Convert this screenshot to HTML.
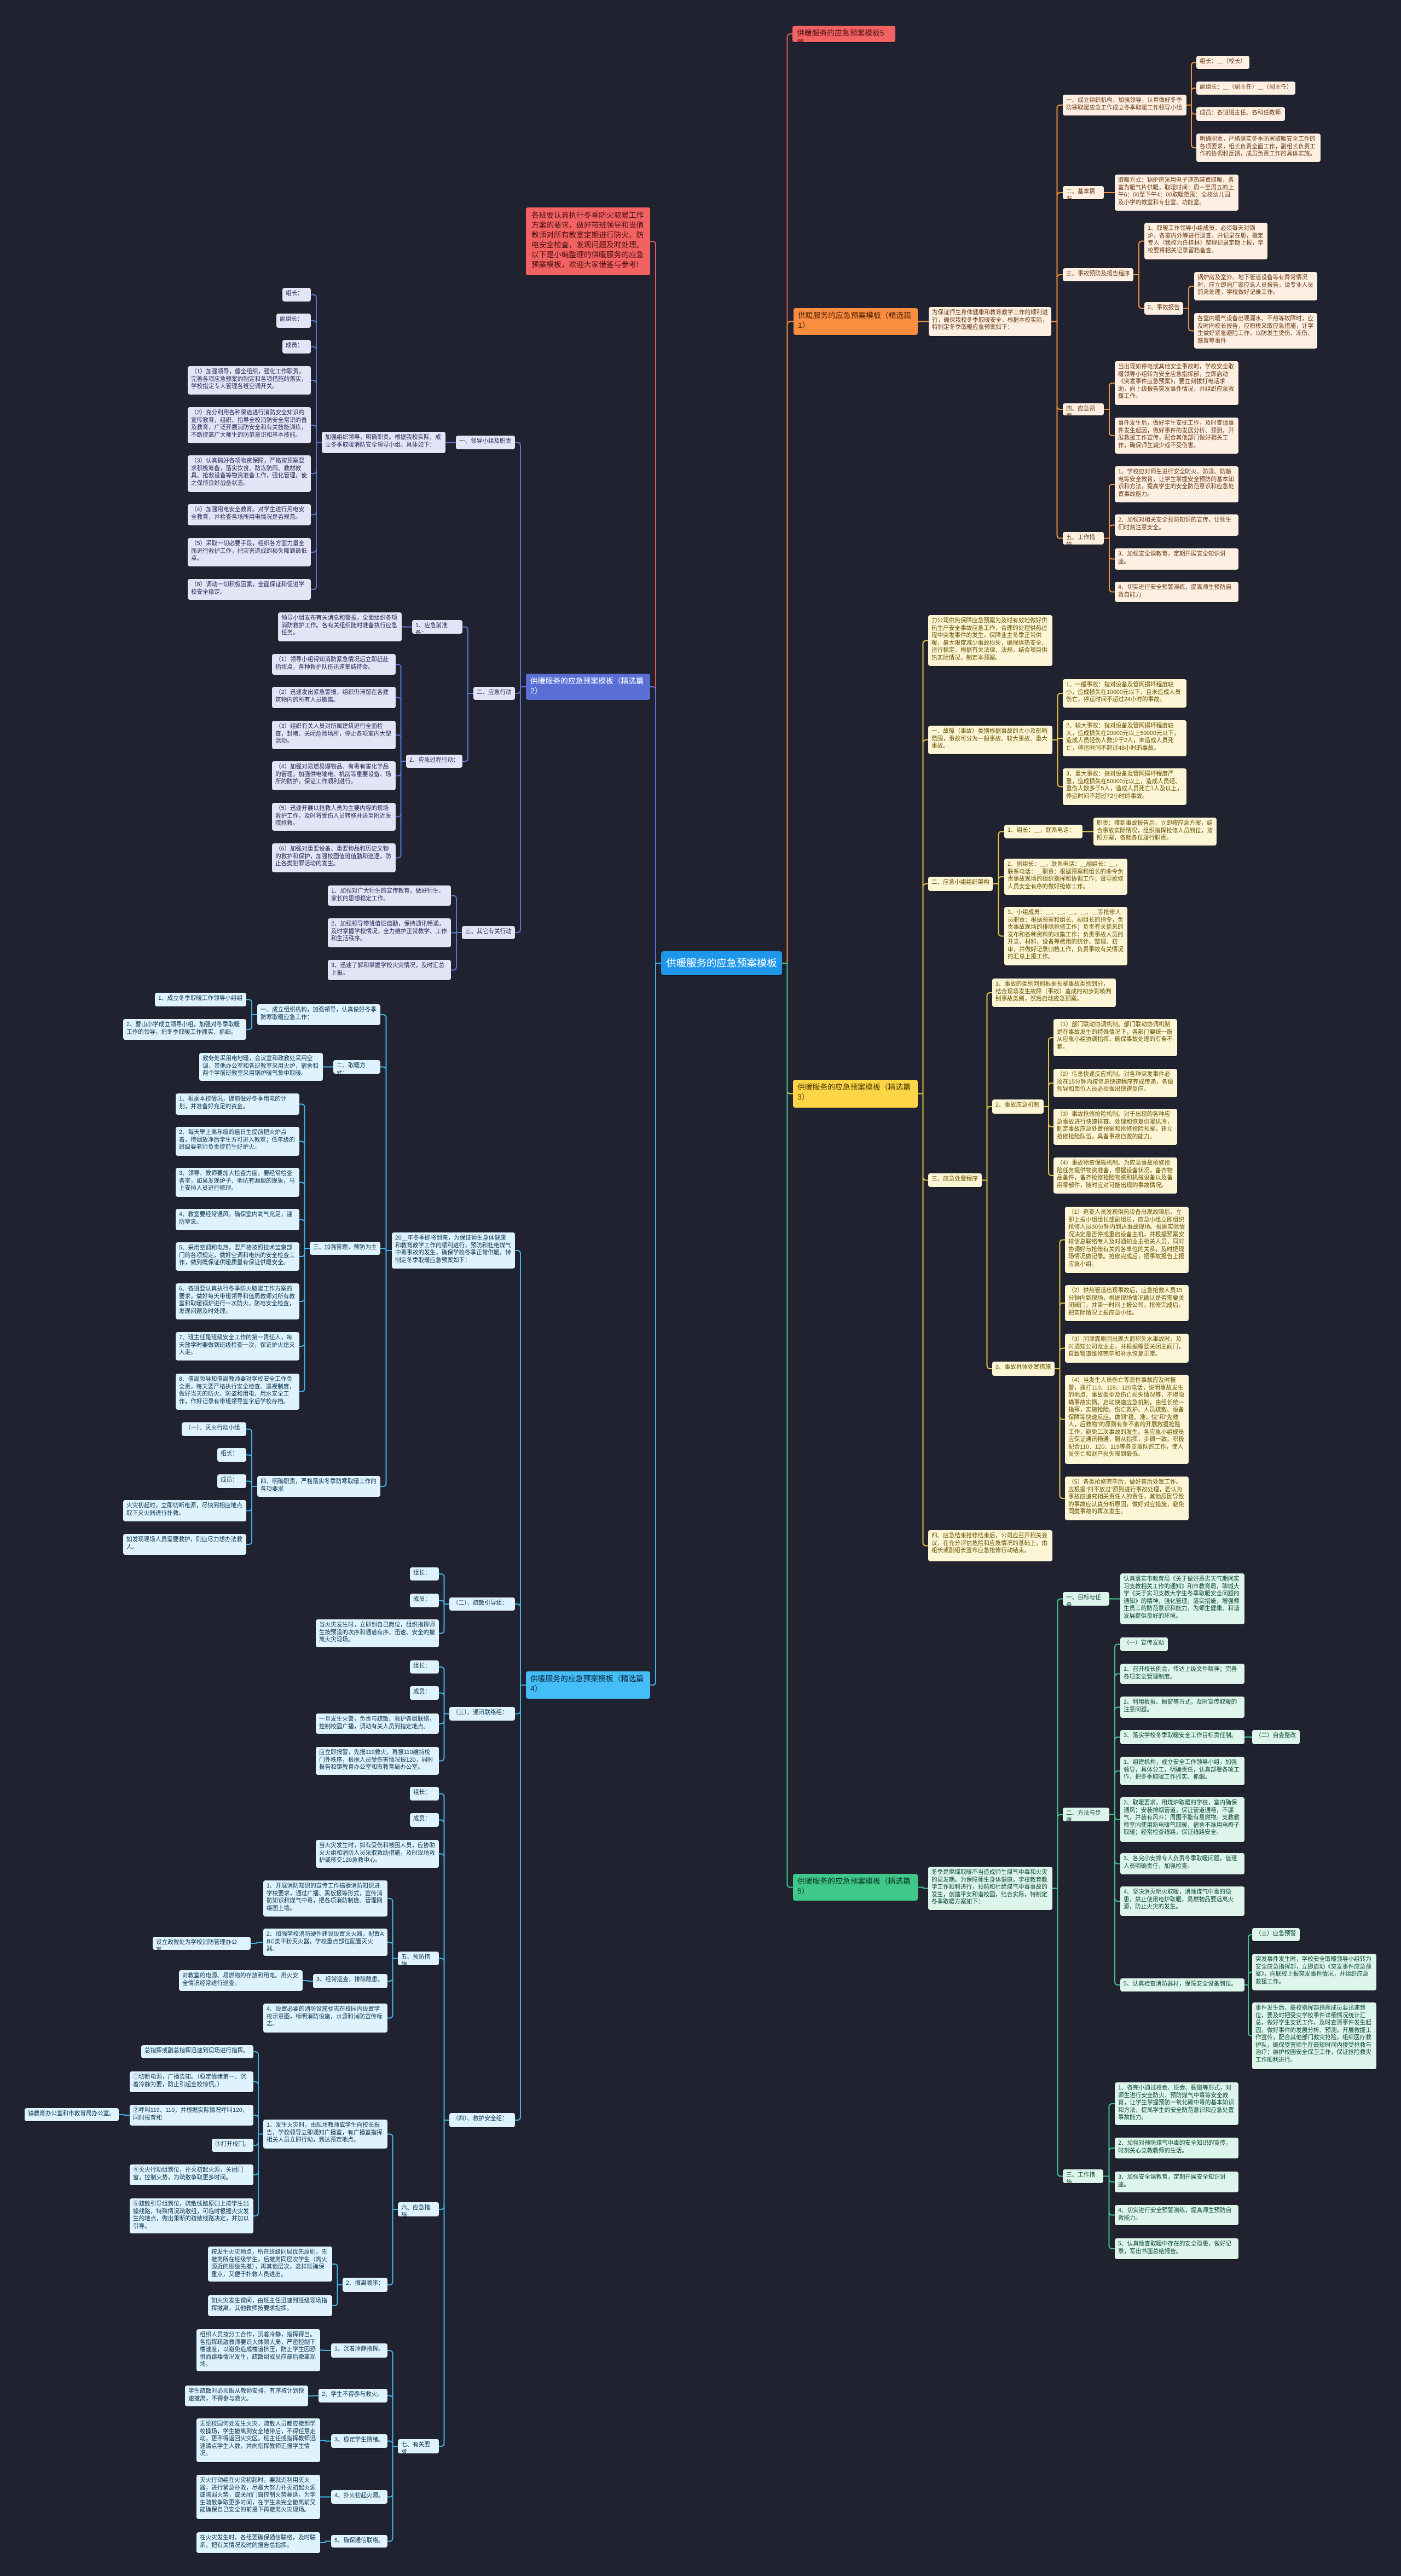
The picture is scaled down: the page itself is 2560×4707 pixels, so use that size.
<!DOCTYPE html>
<html><head><meta charset="utf-8">
<style>
html,body{margin:0;padding:0;background:#20232f;}
body{width:2560px;height:4707px;position:relative;overflow:hidden;font-family:"Liberation Sans","Noto Sans CJK SC",sans-serif;}
svg{position:absolute;left:0;top:0;}
.n{position:absolute;box-sizing:border-box;font-size:10.6px;line-height:13.5px;padding:4px 6px;border-radius:4px;overflow:hidden;box-shadow:0 1px 0 rgba(0,0,0,.35);word-break:break-all;}
.na{background:#fdf0e2;color:#6b3a16;}
.nb{background:#e3e5f6;color:#262b55;}
.nc{background:#fdf6d6;color:#6a5200;}
.nd{background:#def3fd;color:#0e3550;}
.ne{background:#ddf5ea;color:#0f4a33;}
.br{font-size:13.8px;line-height:18px;padding:5px 8px;}
#R{background:#1e97ea;color:#fff;font-size:18.4px;line-height:44px;padding:0;text-align:center;border-radius:5px;}
.r{background:#f26262;color:#4a0f0f;}
#I{font-size:13.7px;line-height:18px;padding:6px 10px;}
#B1{background:#fb8d40;color:#4a2000;}
#B2{background:#5a6fd6;color:#fff;}
#B3{background:#fdd547;color:#4a3a00;}
#B4{background:#45bdf7;color:#0b2a40;}
#B5{background:#3fc88a;color:#0b3322;}
</style></head><body>
<svg id="sv" width="2560" height="4707"></svg>

<div class="n" id="R" style="left:1208px;top:1738px;width:221px;height:44px">供暖服务的应急预案模板</div>
<div class="n r br" id="T" style="left:1448px;top:47px;width:188px;height:30px">供暖服务的应急预案模板5篇</div>
<div class="n r" id="I" style="left:961px;top:379px;width:227px;height:124px">各班要认真执行冬季防火取暖工作方案的要求，做好带班领导和当值教师对所有教室定期进行防火、防电安全检查，发现问题及时处理。以下是小编整理的供暖服务的应急预案模板，欢迎大家借鉴与参考!</div>
<div class="n br" id="B1" style="left:1450px;top:563px;width:227px;height:49px">供暖服务的应急预案模板（精选篇1）</div>
<div class="n br" id="B2" style="left:961px;top:1231px;width:227px;height:48px">供暖服务的应急预案模板（精选篇2）</div>
<div class="n br" id="B3" style="left:1449px;top:1973px;width:228px;height:51px">供暖服务的应急预案模板（精选篇3）</div>
<div class="n br" id="B4" style="left:961px;top:3054px;width:227px;height:50px">供暖服务的应急预案模板（精选篇4）</div>
<div class="n br" id="B5" style="left:1449px;top:3424px;width:228px;height:49px">供暖服务的应急预案模板（精选篇5）</div>

<!-- 篇1 -->
<div class="n na" id="a0" style="left:1697px;top:561px;width:224px;height:53px">为保证师生身体健康和教育教学工作的顺利进行，确保我校冬季取暖安全，根据本校实际，特制定冬季取暖应急预案如下：</div>
<div class="n na" id="a1" style="left:1942px;top:173px;width:226px;height:38px">一、成立组织机构，加强领导，认真做好冬季防寒取暖应急工作成立冬季取暖工作领导小组</div>
<div class="n na" id="a11" style="left:2186px;top:102px;width:97px;height:24px">组长：＿（校长）</div>
<div class="n na" id="a12" style="left:2186px;top:149px;width:181px;height:24px">副组长：＿（副主任）＿（副主任）</div>
<div class="n na" id="a13" style="left:2186px;top:196px;width:162px;height:25px">成员：各班班主任、各科任教师</div>
<div class="n na" id="a14" style="left:2186px;top:244px;width:227px;height:52px">明确职责，严格落实冬季防寒取暖安全工作的各项要求，组长负责全面工作，副组长负责工作的协调和反馈，成员负责工作的具体实施。</div>
<div class="n na" id="a2" style="left:1942px;top:340px;width:75px;height:24px">二、基本情况</div>
<div class="n na" id="a21" style="left:2037px;top:319px;width:226px;height:66px">取暖方式：锅炉房采用电子速热装置取暖，各室为暖气片供暖，取暖时间：周一至周五的上午6：00至下午4：00取暖范围：全校幼儿园及小学的教室和专业室、功能室。</div>
<div class="n na" id="a3" style="left:1942px;top:490px;width:129px;height:24px">三、事故预防及报告程序</div>
<div class="n na" id="a31" style="left:2091px;top:407px;width:225px;height:67px">1、取暖工作领导小组成员，必须每天对锅炉，各室内外等进行巡查，并记录在册，指定专人（我校为任桂林）整理记录定期上报，学校要将相关记录留档备查。</div>
<div class="n na" id="a32" style="left:2091px;top:552px;width:71px;height:23px">2、事故报告</div>
<div class="n na" id="a321" style="left:2182px;top:497px;width:225px;height:52px">锅炉房及室外、地下管道设备等有异常情况时，应立即向厂家应急人员报告，请专业人员前来处理，学校做好记录工作。</div>
<div class="n na" id="a322" style="left:2182px;top:572px;width:225px;height:65px">各室内暖气设备出现漏水、不热等故障时，应及时向校长报告，应积极采取应急措施，让学生做好紧急避险工作，以防发生烫伤、冻伤、感冒等事件</div>
<div class="n na" id="a4" style="left:1942px;top:737px;width:75px;height:22px">四、应急预案</div>
<div class="n na" id="a41" style="left:2037px;top:660px;width:226px;height:80px">当出现如停电或其他安全事故时，学校安全取暖领导小组转为安全应急指挥部，立即启动《突发事件应急预案》，要立刻拔打电话求助，向上级报告突发事件情况，并组织应急救援工作。</div>
<div class="n na" id="a42" style="left:2037px;top:763px;width:226px;height:66px">事件发生后，做好学生安抚工作，及时查请事件发生起因，做好事件的发展分析、预测，开展救援工作宣传，配合其他部门做好相关工作，确保师生减少或不受伤害。</div>
<div class="n na" id="a5" style="left:1942px;top:972px;width:75px;height:23px">五、工作措施</div>
<div class="n na" id="a51" style="left:2037px;top:852px;width:226px;height:66px">1、学校应对师生进行安全防火、防烫、防触电等安全教育，让学生掌握安全预防的基本知识和方法，提高学生的安全防范意识和应急处置事故能力。</div>
<div class="n na" id="a52" style="left:2037px;top:940px;width:226px;height:39px">2、加强对相关安全预防知识的宣传，让师生们时刻注意安全。</div>
<div class="n na" id="a53" style="left:2037px;top:1002px;width:226px;height:39px">3、加强安全课教育，定期开展安全知识讲座。</div>
<div class="n na" id="a54" style="left:2037px;top:1063px;width:226px;height:37px">4、切实进行安全预警演练，提高师生预防自救自能力</div>

<!-- 篇2 -->
<div class="n nb" id="b1" style="left:833px;top:796px;width:108px;height:25px">一、领导小组及职责</div>
<div class="n nb" id="b10" style="left:588px;top:789px;width:226px;height:39px">加强组织领导，明确职责。根据我校实际，成立冬季取暖消防安全领导小组。具体如下：</div>
<div class="n nb" id="b11" style="left:516px;top:526px;width:52px;height:25px">组长：＿</div>
<div class="n nb" id="b12" style="left:505px;top:573px;width:63px;height:26px">副组长：＿</div>
<div class="n nb" id="b13" style="left:516px;top:621px;width:52px;height:25px">成员：＿</div>
<div class="n nb" id="b14" style="left:343px;top:669px;width:225px;height:52px">（1）加强领导，健全组织，强化工作职责，完善各项应急预案的制定和各项措施的落实，学校指定专人管理各班空调开关。</div>
<div class="n nb" id="b15" style="left:343px;top:744px;width:225px;height:66px">（2）充分利用各种渠道进行消防安全知识的宣传教育，组织、指导全校消防安全常识的普及教育，广泛开展消防安全和有关技能训练，不断提高广大师生的防范意识和基本技能。</div>
<div class="n nb" id="b16" style="left:343px;top:832px;width:225px;height:67px">（3）认真搞好各项物资保障，严格按预案要求积极筹备，落实饮食、防冻防雨、教材教具、抢救设备等物资准备工作，强化管理，使之保持良好战备状态。</div>
<div class="n nb" id="b17" style="left:343px;top:921px;width:225px;height:39px">（4）加强用电安全教育。对学生进行用电安全教育，并检查各场所用电情况是否规范。</div>
<div class="n nb" id="b18" style="left:343px;top:983px;width:225px;height:52px">（5）采取一切必要手段，组织各方面力量全面进行救护工作，把灾害造成的损失降到最低点。</div>
<div class="n nb" id="b19" style="left:343px;top:1058px;width:225px;height:38px">（6）调动一切积极因素，全面保证和促进学校安全稳定。</div>
<div class="n nb" id="b2" style="left:865px;top:1255px;width:76px;height:24px">二、应急行动</div>
<div class="n nb" id="b21" style="left:753px;top:1133px;width:92px;height:25px">1、应急前准备：</div>
<div class="n nb" id="b211" style="left:508px;top:1119px;width:226px;height:53px">领导小组发布有关消息和警报，全面组织各项消防救护工作。各有关组织随时准备执行应急任务。</div>
<div class="n nb" id="b22" style="left:742px;top:1379px;width:103px;height:24px">2、应急过程行动：</div>
<div class="n nb" id="b221" style="left:497px;top:1195px;width:226px;height:38px">（1）领导小组得知消防紧急情况后立即赶赴指挥点，各种救护队伍迅速集结待命。</div>
<div class="n nb" id="b222" style="left:497px;top:1255px;width:226px;height:39px">（2）迅速发出紧急警报，组织仍滞留在各建筑物内的所有人员撤离。</div>
<div class="n nb" id="b223" style="left:497px;top:1317px;width:226px;height:52px">（3）组织有关人员对所属建筑进行全面检查，封堵、关闭危险场所，停止各项室内大型活动。</div>
<div class="n nb" id="b224" style="left:497px;top:1391px;width:226px;height:53px">（4）加强对易燃易爆物品、有毒有害化学品的管理，加强供电输电、机房等重要设备、场所的防护，保证工作顺利进行。</div>
<div class="n nb" id="b225" style="left:497px;top:1467px;width:226px;height:51px">（5）迅速开展以抢救人员为主要内容的现场救护工作，及时将受伤人员转移并送至附近医院抢救。</div>
<div class="n nb" id="b226" style="left:497px;top:1541px;width:226px;height:53px">（6）加强对重要设备、重要物品和历史文物的救护和保护，加强校园值班值勤和巡逻，防止各类犯罪活动的发生。</div>
<div class="n nb" id="b3" style="left:844px;top:1692px;width:97px;height:24px">三、其它有关行动</div>
<div class="n nb" id="b31" style="left:599px;top:1618px;width:225px;height:37px">1、加强对广大师生的宣传教育，做好师生、家长的思想稳定工作。</div>
<div class="n nb" id="b32" style="left:599px;top:1678px;width:225px;height:53px">2、加强领导带班值班值勤，保持通讯畅通，及时掌握学校情况，全力维护正常教学、工作和生活秩序。</div>
<div class="n nb" id="b33" style="left:599px;top:1754px;width:225px;height:37px">3、迅速了解和掌握学校火灾情况，及时汇总上报。</div>

<!-- 篇3 -->
<div class="n nc" id="c0" style="left:1696px;top:1124px;width:227px;height:93px">力公司供热保障应急预案为及时有效地做好供热生产安全事故应急工作，合理的处理供热过程中突发事件的发生，保障业主冬季正常供暖，最大限度减少事故损失，确保供热安全、运行稳定，根据有关法律、法规，结合项目供热实际情况，制定本预案。</div>
<div class="n nc" id="c1" style="left:1696px;top:1326px;width:227px;height:52px">一、故障（事故）类别根据事故的大小及影响范围，事故可分为一般事故、较大事故、重大事故。</div>
<div class="n nc" id="c11" style="left:1942px;top:1241px;width:226px;height:52px">1、一般事故：指对设备及管网损坏程度较小，造成损失在10000元以下，且未造成人员伤亡，停运时间不超过24小时的事故。</div>
<div class="n nc" id="c12" style="left:1942px;top:1316px;width:226px;height:66px">2、较大事故：指对设备及管网损坏程度较大，造成损失在20000元以上50000元以下，造成人员轻伤人数少于2人，未造成人员死亡，停运时间不超过48小时的事故。</div>
<div class="n nc" id="c13" style="left:1942px;top:1404px;width:226px;height:67px">3、重大事故：指对设备及管网损坏程度严重，造成损失在50000元以上，造成人员轻、重伤人数多于5人，造成人员死亡1人及以上，停运时间不超过72小时的事故。</div>
<div class="n nc" id="c2" style="left:1696px;top:1602px;width:118px;height:26px">二、应急小组组织架构</div>
<div class="n nc" id="c21" style="left:1835px;top:1507px;width:143px;height:25px">1、组长：＿，联系电话：＿</div>
<div class="n nc" id="c211" style="left:1998px;top:1494px;width:225px;height:51px">职责：接到事故报告后，立即按应急方案，结合事故实际情况，组织指挥抢修人员到位，按照方案，各就各位履行职责。</div>
<div class="n nc" id="c22" style="left:1835px;top:1569px;width:225px;height:66px">2、副组长：＿，联系电话：＿副组长：＿，联系电话：＿职责：根据预案和组长的命令负责事故现场的组织指挥和协调工作；督导抢修人员安全有序的做好抢修工作。</div>
<div class="n nc" id="c23" style="left:1835px;top:1657px;width:225px;height:107px">3、小组成员：＿、＿、＿、＿、＿等抢修人员职责：根据预案和组长、副组长的指令，负责事故现场的排除抢修工作；负责有关信息的发布和各种资料的收集工作；负责事故人员的开支、材料、设备等费用的统计、整理、初审，并做好记录归档工作，负责事故有关情况的汇总上报工作。</div>
<div class="n nc" id="c3" style="left:1696px;top:2144px;width:98px;height:25px">三、应急处置程序</div>
<div class="n nc" id="c31" style="left:1813px;top:1788px;width:226px;height:52px">1、事故的类别判别根据预案事故类别划分，结合现场发生故障（事故）造成的初步影响判别事故类别，然后启动应急预案。</div>
<div class="n nc" id="c32" style="left:1813px;top:2009px;width:94px;height:26px">2、事故应急机制</div>
<div class="n nc" id="c321" style="left:1925px;top:1862px;width:226px;height:68px">（1）部门联动协调机制。部门联动协调机制是在事故发生的特殊情况下，各部门要统一服从应急小组协调指挥，确保事故处理的有条不紊。</div>
<div class="n nc" id="c322" style="left:1925px;top:1953px;width:226px;height:52px">（2）信息快速反应机制。对各种突发事件必须在15分钟内按信息快速程序完成传递，各级领导和岗位人员必须做出快速反应。</div>
<div class="n nc" id="c323" style="left:1925px;top:2026px;width:226px;height:66px">（3）事故抢修抢险机制。对于出现的各种应急事故进行快速排查、处理和恢复供暖供冷，制定事故应急处置预案和抢修抢险预案，建立抢修抢险队伍，具备事故自救的能力。</div>
<div class="n nc" id="c324" style="left:1925px;top:2115px;width:226px;height:66px">（4）事故物资保障机制。为应急事故抢修抢险任务提供物资准备，根据设备状况，备齐物品备件，备齐抢修抢险物资和机械设备以及备用零部件，随时应对可能出现的事故情况。</div>
<div class="n nc" id="c33" style="left:1813px;top:2488px;width:114px;height:26px">3、事故具体处置措施</div>
<div class="n nc" id="c331" style="left:1946px;top:2205px;width:226px;height:121px">（1）巡查人员发现供热设备出现故障后，立即上报小组组长或副组长，应急小组立即组织抢修人员30分钟内到达事故现场。根据实际情况决定是否停或重启设备主机，并根据预案安排信息联络专人及时通知业主相关人员，同时协调好与抢修有关的各单位的关系，及时把现场情况做记录。抢修完成后，把事故报告上报应急小组。</div>
<div class="n nc" id="c332" style="left:1946px;top:2348px;width:226px;height:66px">（2）供热管道出现事故后，应急抢救人员15分钟内到现场，根据现场情况确认是否需要关闭阀门，并第一时间上报公司。抢修完成后，把实际情况上报应急小组。</div>
<div class="n nc" id="c333" style="left:1946px;top:2437px;width:226px;height:53px">（3）因泄露原因出现大面积失水事故时，及时通知公司及业主，并根据需要关闭主阀门，直致管道维修完毕和补水恢复正常。</div>
<div class="n nc" id="c334" style="left:1946px;top:2512px;width:226px;height:163px">（4）当发生人员伤亡等恶性事故应及时报警，拨打110、119、120电话，说明事故发生的地点、事故类型及伤亡损失情况等，不得隐瞒事故实情。启动快速应急机制，由组长统一指挥，实施抢险、伤亡救护、人员疏散、设备保障等快速反应。做到“稳、准、快”和“先救人，后救物”的原则有条不紊的开展救援抢险工作，避免二次事故的发生。各应急小组成员应保证通讯畅通，服从指挥，步调一致。积极配合110、120、119等各支援队的工作，使人员伤亡和财产损失降到最低。</div>
<div class="n nc" id="c335" style="left:1946px;top:2698px;width:226px;height:80px">（5）各类抢修完毕后，做好善后处置工作。应根据“四不放过”原则进行事故处理，若认为事故应追究相关责任人的责任，其他原因导致的事故应认真分析原因，做好对应措施，避免同类事故的再次发生。</div>
<div class="n nc" id="c4" style="left:1696px;top:2796px;width:227px;height:57px">四、应急结束抢修结束后，公司应召开相关会议，在充分评估危险和应急情况的基础上，由组长或副组长宣布应急抢修行动结束。</div>

<!-- 篇4 -->
<div class="n nd" id="d0" style="left:716px;top:2252px;width:225px;height:66px">20＿年冬季即将到来，为保证师生身体健康和教育教学工作的顺利进行，预防和杜绝煤气中毒事故的发生，确保学校冬季正常供暖，特制定冬季取暖应急预案如下：</div>
<div class="n nd" id="d1" style="left:470px;top:1835px;width:225px;height:38px">一、成立组织机构，加强领导，认真做好冬季防寒取暖应急工作：</div>
<div class="n nd" id="d11" style="left:283px;top:1814px;width:167px;height:25px">1、成立冬季取暖工作领导小组组</div>
<div class="n nd" id="d12" style="left:225px;top:1862px;width:225px;height:38px">2、曹山小学成立领导小组，加强对冬季取暖工作的领导，把冬季取暖工作抓实、抓细。</div>
<div class="n nd" id="d2" style="left:609px;top:1937px;width:86px;height:25px">二、取暖方式：</div>
<div class="n nd" id="d21" style="left:364px;top:1924px;width:226px;height:51px">教务处采用电地暖，会议室和政教处采用空调，其他办公室和各班教室采用火炉，宿舍和两个学前班教室采用锅炉暖气集中取暖。</div>
<div class="n nd" id="d3" style="left:566px;top:2269px;width:129px;height:24px">三、加强管理，预防为主</div>
<div class="n nd" id="d31" style="left:321px;top:1998px;width:226px;height:39px">1、根据本校情况，提前做好冬季用电的计划，并准备好充足的资金。</div>
<div class="n nd" id="d32" style="left:321px;top:2059px;width:226px;height:53px">2、每天早上高年级的值日生提前把火炉点着，待烟放净后学生方可进入教室；低年级的班级要老师负责提前生好炉火。</div>
<div class="n nd" id="d33" style="left:321px;top:2134px;width:226px;height:53px">3、领导、教师要加大检查力度，要经常检查各室，如果发现炉子、地坑有漏烟的现象，马上安排人员进行修理。</div>
<div class="n nd" id="d34" style="left:321px;top:2209px;width:226px;height:39px">4、教室要经常通风，确保室内氧气充足，谨防窒息。</div>
<div class="n nd" id="d35" style="left:321px;top:2270px;width:226px;height:52px">5、采用空调和电热，要严格按照技术监察部门的各项规定，做好空调和电热的安全检查工作，做到既保证供暖质量有保证供暖安全。</div>
<div class="n nd" id="d36" style="left:321px;top:2345px;width:226px;height:66px">6、各班要认真执行冬季防火取暖工作方案的要求，做好每天带班领导和值周教师对所有教室和取暖锅炉进行一次防火、防电安全检查，发现问题及时处理。</div>
<div class="n nd" id="d37" style="left:321px;top:2434px;width:226px;height:52px">7、班主任是班级安全工作的第一责任人，每天放学时要做到班级检查一次，保证炉火熄灭人走。</div>
<div class="n nd" id="d38" style="left:321px;top:2510px;width:226px;height:66px">8、值周领导和值周教师要对学校安全工作负全责，每天要严格执行安全检查、巡视制度，做好当天的防火、防盗和用电、用水安全工作，作好记录有带班领导签字后学校存档。</div>
<div class="n nd" id="d4" style="left:470px;top:2697px;width:225px;height:38px">四、明确职责，严格落实冬季防寒取暖工作的各项要求</div>
<div class="n nd" id="d41" style="left:332px;top:2599px;width:118px;height:25px">（一）、灭火行动小组</div>
<div class="n nd" id="d42" style="left:397px;top:2646px;width:53px;height:25px">组长：＿</div>
<div class="n nd" id="d43" style="left:397px;top:2694px;width:53px;height:25px">成员：＿</div>
<div class="n nd" id="d44" style="left:225px;top:2741px;width:225px;height:39px">火灾初起时，立即切断电源，尽快到相应地点取下灭火器进行扑救。</div>
<div class="n nd" id="d45" style="left:225px;top:2803px;width:225px;height:38px">如发现现场人员需要救护，则应尽力想办法救人。</div>
<div class="n nd" id="d5" style="left:821px;top:2919px;width:120px;height:24px">（二）、疏散引导组：</div>
<div class="n nd" id="d51" style="left:749px;top:2864px;width:53px;height:24px">组长：＿</div>
<div class="n nd" id="d52" style="left:749px;top:2912px;width:53px;height:25px">成员：＿</div>
<div class="n nd" id="d53" style="left:577px;top:2959px;width:225px;height:51px">当火灾发生时，立即到自己岗位，组织指挥师生按预设的次序和通道有序、迅速、安全的撤离火灾现场。</div>
<div class="n nd" id="d6" style="left:821px;top:3119px;width:120px;height:25px">（三）、通讯联络组：</div>
<div class="n nd" id="d61" style="left:749px;top:3034px;width:53px;height:24px">组长：＿</div>
<div class="n nd" id="d62" style="left:749px;top:3081px;width:53px;height:25px">成员：＿</div>
<div class="n nd" id="d63" style="left:577px;top:3131px;width:225px;height:37px">一旦发生火警，负责与疏散、救护各组联络，控制校园广播，调动有关人员到指定地点。</div>
<div class="n nd" id="d64" style="left:577px;top:3192px;width:225px;height:51px">应立即报警，先报119救火，再报110维持校门外秩序，根据人员受伤害情况报120，同时报告和镇教育办公室和市教育局办公室。</div>
<div class="n nd" id="d7" style="left:821px;top:3861px;width:120px;height:26px">（四）、救护安全组：</div>
<div class="n nd" id="d71" style="left:749px;top:3265px;width:53px;height:25px">组长：＿</div>
<div class="n nd" id="d72" style="left:749px;top:3313px;width:53px;height:25px">成员：＿</div>
<div class="n nd" id="d73" style="left:577px;top:3362px;width:225px;height:51px">当火灾发生时，如有受伤和被困人员，应协助灭火组和消防人员采取救助措施，及时现场救护或移交120急救中心。</div>
<div class="n nd" id="d74" style="left:727px;top:3566px;width:75px;height:25px">五、预防措施</div>
<div class="n nd" id="d741" style="left:481px;top:3436px;width:227px;height:66px">1、开展消防知识的宣传工作搞播消防知识进学校要求，通过广播、黑板报等形式，宣传消防知识和煤气中毒，把各项消防制度、管理网络图上墙。</div>
<div class="n nd" id="d742" style="left:481px;top:3524px;width:227px;height:50px">2、加强学校消防硬件建设设置灭火器，配置ABC类干粉灭火器，学校重点部位配置灭火器。</div>
<div class="n nd" id="d7421" style="left:279px;top:3539px;width:179px;height:24px">设立政教处为学校消防管理办公室。</div>
<div class="n nd" id="d743" style="left:572px;top:3607px;width:136px;height:26px">3、经常巡查，排除隐患。</div>
<div class="n nd" id="d7431" style="left:327px;top:3600px;width:226px;height:38px">对教室的电源、易燃物的存放和用电、用火安全情况经常进行巡查。</div>
<div class="n nd" id="d744" style="left:481px;top:3661px;width:227px;height:53px">4、设置必要的消防设施标志在校园内设置学校示意图，标明消防设施，水源和消防宣传标志。</div>
<div class="n nd" id="d75" style="left:727px;top:4024px;width:75px;height:26px">六、应急措施</div>
<div class="n nd" id="d751" style="left:481px;top:3873px;width:227px;height:53px">1、发生火灾时，由现场教师或学生向校长报告，学校领导立即通知广播室，有广播室指挥相关人员立即行动，到达预定地点。</div>
<div class="n nd" id="d7511" style="left:258px;top:3737px;width:205px;height:24px">总指挥或副总指挥迅速到现场进行指挥。</div>
<div class="n nd" id="d7512" style="left:237px;top:3785px;width:226px;height:38px">①切断电源，广播告知。（稳定情绪第一、沉着冷静为要，防止引起全校惊慌。）</div>
<div class="n nd" id="d7513" style="left:237px;top:3846px;width:226px;height:38px">②呼叫119、110，并根据实际情况呼叫120，同时报育和</div>
<div class="n nd" id="d75131" style="left:45px;top:3852px;width:172px;height:24px">镇教育办公室和市教育局办公室。</div>
<div class="n nd" id="d7514" style="left:387px;top:3908px;width:76px;height:24px">③打开校门。</div>
<div class="n nd" id="d7515" style="left:237px;top:3955px;width:226px;height:38px">④灭火行动组到位，扑灭初起火源，关闭门窗，控制火势，为疏散争取更多时间。</div>
<div class="n nd" id="d7516" style="left:237px;top:4017px;width:226px;height:64px">⑤疏散引导组到位，疏散线路原则上按学生出操线路，特殊情况疏散组，可临时根据火灾发生的地点，做出果断的疏散线路决定，并加以引导。</div>
<div class="n nd" id="d752" style="left:626px;top:4162px;width:82px;height:26px">2、撤离顺序：</div>
<div class="n nd" id="d7521" style="left:380px;top:4105px;width:227px;height:64px">按发生火灾地点，所在班级同层优先原则，先撤离所在班级学生，后撤离同层次学生（离火源近的班级先撤），再其他层次，这样既确保重点，又便于扑救人员进出。</div>
<div class="n nd" id="d7522" style="left:380px;top:4194px;width:227px;height:38px">如火灾发生课间，由班主任迅速到班级现场指挥撤离，其他教师按要求指挥。</div>
<div class="n nd" id="d76" style="left:727px;top:4457px;width:75px;height:26px">七、有关要求</div>
<div class="n nd" id="d761" style="left:605px;top:4282px;width:103px;height:26px">1、沉着冷静指挥。</div>
<div class="n nd" id="d7611" style="left:359px;top:4256px;width:226px;height:77px">组织人员按分工合作，沉着冷静，指挥得当。各指挥疏散教师要识大体顾大局，严密控制下楼速度，以避免造成楼道挤压，防止学生因恐惧而跳楼情况发生，疏散组成员应最后撤离现场。</div>
<div class="n nd" id="d762" style="left:582px;top:4365px;width:126px;height:25px">2、学生不得参与救火。</div>
<div class="n nd" id="d7621" style="left:338px;top:4359px;width:225px;height:38px">学生疏散时必须服从教师安排，有序按计划快速撤离，不得参与救火。</div>
<div class="n nd" id="d763" style="left:605px;top:4448px;width:103px;height:25px">3、稳定学生情绪。</div>
<div class="n nd" id="d7631" style="left:359px;top:4419px;width:226px;height:80px">无论校园何处发生火灾，疏散人员都应撤到学校操场，学生撤离到安全地带后，不得任意走动，更不得返回火灾区。班主任或指挥教师迅速清点学生人数，并向指挥教师汇报学生情况。</div>
<div class="n nd" id="d764" style="left:605px;top:4550px;width:103px;height:25px">4、扑火初起火源。</div>
<div class="n nd" id="d7641" style="left:359px;top:4522px;width:226px;height:81px">灭火行动组在火灾初起时，要就近利用灭火器，进行紧急扑救，尽最大努力扑灭初起火源或减弱火势，或关闭门窗控制火势蔓延，为学生疏散争取更多时间，在学生未完全撤离前又能确保自己安全的前提下再撤离火灾现场。</div>
<div class="n nd" id="d765" style="left:605px;top:4632px;width:103px;height:23px">5、确保通信联络。</div>
<div class="n nd" id="d7651" style="left:359px;top:4627px;width:226px;height:38px">在火灾发生时，各组要确保通信联络，及时联系，把有关情况及时的报告总指挥。</div>

<!-- 篇5 -->
<div class="n ne" id="e0" style="left:1696px;top:3411px;width:227px;height:79px">冬季是燃煤取暖不当造成师生煤气中毒和火灾的易发期。为保障师生身体健康，学校教育教学工作顺利进行，预防和杜绝煤气中毒事故的发生，创建平安和谐校园，结合实际，特制定冬季取暖方案如下：</div>
<div class="n ne" id="e1" style="left:1942px;top:2909px;width:85px;height:25px">一、目标与任务</div>
<div class="n ne" id="e11" style="left:2047px;top:2875px;width:227px;height:93px">认真落实市教育局《关于做好恶劣天气期间实习支教相关工作的通知》和市教育局，聊城大学《关于实习支教大学生冬季取暖安全问题的通知》的精神，强化管理，落实措施，增强师生员工的防范意识和能力，为师生健康、和谐发展提供良好的环境。</div>
<div class="n ne" id="e2" style="left:1942px;top:3303px;width:85px;height:25px">二、方法与步骤</div>
<div class="n ne" id="e21" style="left:2047px;top:2992px;width:87px;height:25px">（一）宣传发动</div>
<div class="n ne" id="e22" style="left:2047px;top:3040px;width:227px;height:37px">1、召开校长例会，传达上级文件精神；完善各项安全管理制度。</div>
<div class="n ne" id="e23" style="left:2047px;top:3100px;width:227px;height:39px">2、利用板报、橱窗等方式，及时宣传取暖的注意问题。</div>
<div class="n ne" id="e24" style="left:2047px;top:3161px;width:227px;height:26px">3、落实学校冬季取暖安全工作目标责任制。</div>
<div class="n ne" id="e241" style="left:2288px;top:3161px;width:87px;height:26px">（二）自查整改</div>
<div class="n ne" id="e25" style="left:2047px;top:3210px;width:227px;height:52px">1、组建机构，成立安全工作领导小组，加强领导，具体分工，明确责任，认真部署各项工作，把冬季取暖工作抓实、抓细。</div>
<div class="n ne" id="e26" style="left:2047px;top:3284px;width:227px;height:82px">2、取暖要求。用煤炉取暖的学校，室内确保通风；安装排烟管道，保证管道通畅，不漏气，并装有风斗；周围不能有易燃物。支教教师室内使用新电暖气取暖，宿舍不准用电褥子取暖；经常检查线路，保证线路安全。</div>
<div class="n ne" id="e27" style="left:2047px;top:3386px;width:227px;height:39px">3、各完小安排专人负责冬季取暖问题，值班人员明确责任，加强检查。</div>
<div class="n ne" id="e28" style="left:2047px;top:3447px;width:227px;height:54px">4、坚决消灭明火取暖，消除煤气中毒的隐患，禁止使用电炉取暖，易燃物品要远离火源，防止火灾的发生。</div>
<div class="n ne" id="e29" style="left:2047px;top:3615px;width:227px;height:24px">5、认真检查消防器材，保障安全设备到位。</div>
<div class="n ne" id="e291" style="left:2288px;top:3523px;width:87px;height:24px">（三）应急预警</div>
<div class="n ne" id="e292" style="left:2288px;top:3570px;width:227px;height:67px">突发事件发生时，学校安全取暖领导小组转为安全应急指挥部，立即启动《突发事件应急预案》，向联校上报突发事件情况，并组织应急救援工作。</div>
<div class="n ne" id="e293" style="left:2288px;top:3659px;width:227px;height:122px">事件发生后，联校指挥部指挥成员要迅速到位，要及时把受灾学校事件详细情况统计汇总，做好学生安抚工作，及时查清事件发生起因，做好事件的发展分析、预测，开展救援工作宣传，配合其他部门救灾抢险，组织医疗救护队，确保受害师生在最短时间内接受抢救与治疗；维护校园安全保卫工作，保证抢险救灾工作顺利进行。</div>
<div class="n ne" id="e3" style="left:1942px;top:3964px;width:74px;height:25px">三、工作措施</div>
<div class="n ne" id="e31" style="left:2037px;top:3805px;width:226px;height:78px">1、各完小通过校会、班会、橱窗等形式，对师生进行安全防火、预防煤气中毒等安全教育，让学生掌握预防一氧化碳中毒的基本知识和方法，提高学生的安全防范意识和应急处置事故能力。</div>
<div class="n ne" id="e32" style="left:2037px;top:3906px;width:226px;height:38px">2、加强对预防煤气中毒的安全知识的宣传，时刻关心支教教师的生活。</div>
<div class="n ne" id="e33" style="left:2037px;top:3968px;width:226px;height:38px">3、加强安全课教育，定期开展安全知识讲座。</div>
<div class="n ne" id="e34" style="left:2037px;top:4029px;width:226px;height:37px">4、切实进行安全预警演练，提高师生预防自救能力。</div>
<div class="n ne" id="e35" style="left:2037px;top:4090px;width:226px;height:38px">5、认真检查取暖中存在的安全隐患，做好记录，写出书面总结报告。</div>

<script>
var E={
R:['T','B1','B3','B5','I','B2','B4'],
B1:['a0'],a0:['a1','a2','a3','a4','a5'],a1:['a11','a12','a13','a14'],a2:['a21'],a3:['a31','a32'],a32:['a321','a322'],a4:['a41','a42'],a5:['a51','a52','a53','a54'],
B2:['b1','b2','b3'],b1:['b10'],b10:['b11','b12','b13','b14','b15','b16','b17','b18','b19'],b2:['b21','b22'],b21:['b211'],b22:['b221','b222','b223','b224','b225','b226'],b3:['b31','b32','b33'],
B3:['c0','c1','c2','c3','c4'],c1:['c11','c12','c13'],c2:['c21','c22','c23'],c21:['c211'],c3:['c31','c32','c33'],c32:['c321','c322','c323','c324'],c33:['c331','c332','c333','c334','c335'],
B4:['d0','d5','d6','d7'],d0:['d1','d2','d3','d4'],d1:['d11','d12'],d2:['d21'],d3:['d31','d32','d33','d34','d35','d36','d37','d38'],d4:['d41','d42','d43','d44','d45'],d5:['d51','d52','d53'],d6:['d61','d62','d63','d64'],d7:['d71','d72','d73','d74','d75','d76'],d74:['d741','d742','d743','d744'],d742:['d7421'],d743:['d7431'],d75:['d751','d752'],d751:['d7511','d7512','d7513','d7514','d7515','d7516'],d7513:['d75131'],d752:['d7521','d7522'],d76:['d761','d762','d763','d764','d765'],d761:['d7611'],d762:['d7621'],d763:['d7631'],d764:['d7641'],d765:['d7651'],
B5:['e0'],e0:['e1','e2','e3'],e1:['e11'],e2:['e21','e22','e23','e24','e25','e26','e27','e28','e29'],e24:['e241'],e29:['e291','e292','e293'],e3:['e31','e32','e33','e34','e35']
};
function col(el){var c=el.className;
if(el.id=='B1'||c.indexOf('na')>=0)return '#f0913f';
if(el.id=='B2'||c.indexOf('nb')>=0)return '#5a74d8';
if(el.id=='B3'||c.indexOf('nc')>=0)return '#e6c340';
if(el.id=='B4'||c.indexOf('nd')>=0)return '#3cb4ec';
if(el.id=='B5'||c.indexOf('ne')>=0)return '#42c68b';
return '#e05858';}
function box(id){var e=document.getElementById(id);return {e:e,x:e.offsetLeft,y:e.offsetTop,w:e.offsetWidth,h:e.offsetHeight};}
var s='';
for(var p in E){var P=box(p);var pcx=P.x+P.w/2,pcy=P.y+P.h/2;
var L=[],Rr=[];E[p].forEach(function(c){var C=box(c);(C.x+C.w/2>pcx?Rr:L).push(C);});
[[Rr,1],[L,-1]].forEach(function(g){var arr=g[0],d=g[1];if(!arr.length)return;
var pe=d>0?P.x+P.w:P.x;var ce=d>0?Math.min.apply(null,arr.map(function(c){return c.x;})):Math.max.apply(null,arr.map(function(c){return c.x+c.w;}));
var vx=(pe+ce)/2;
arr.forEach(function(C){var cy=C.y+C.h/2;var cx=d>0?C.x:C.x+C.w;var k=col(C.e);
var r=Math.min(6,Math.abs(cy-pcy));var sg=cy>pcy?1:-1;
s+='<path d="M'+pe+' '+pcy+' L'+vx+' '+pcy+' L'+vx+' '+(cy-sg*r)+' Q'+vx+' '+cy+' '+(vx+d*r)+' '+cy+' L'+cx+' '+cy+'" fill="none" stroke="'+k+'" stroke-width="2"/>';});
});}
document.getElementById('sv').innerHTML=s;
</script>
</body></html>
